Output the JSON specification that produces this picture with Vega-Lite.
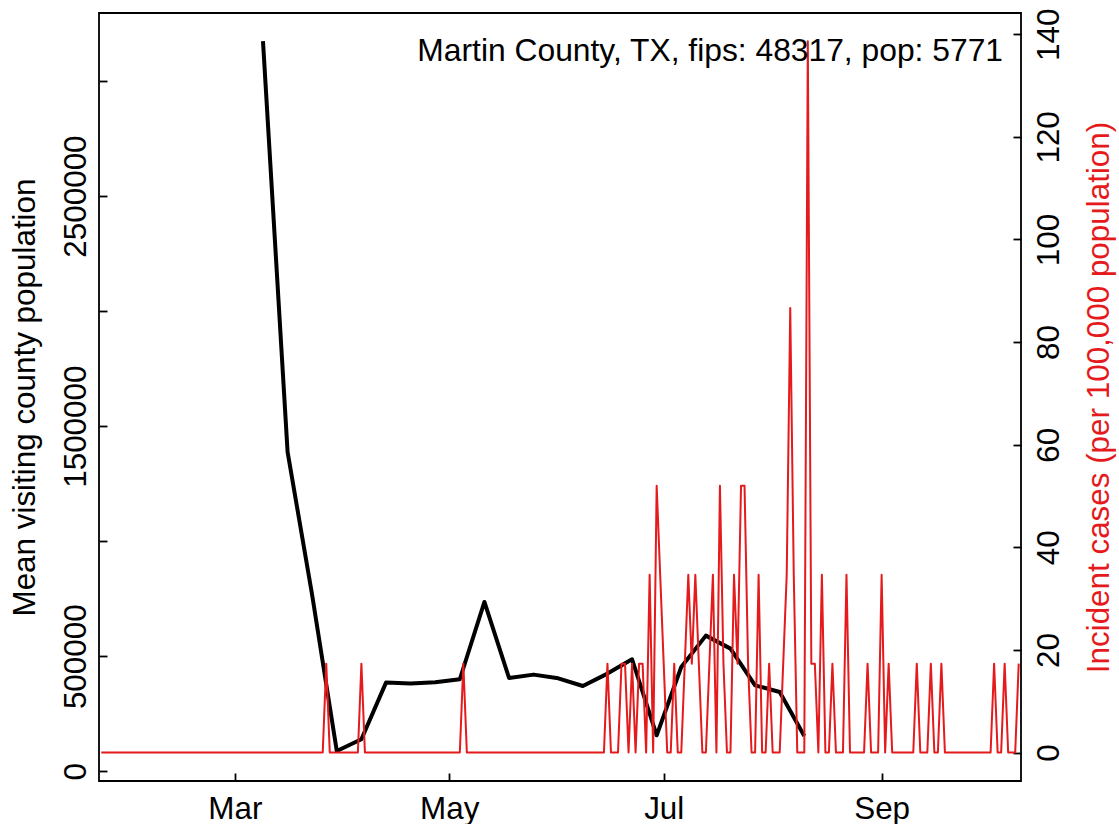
{
  "$schema": "https://vega.github.io/schema/vega-lite/v6.json",
  "width": 922,
  "height": 768,
  "autosize": {"type": "none"},
  "padding": {"left": 99, "top": 13, "right": 98, "bottom": 43},
  "background": "white",
  "title": {
    "text": "Martin County, TX, fips: 48317, pop: 5771",
    "anchor": "end",
    "orient": "top",
    "frame": "group",
    "offset": 0,
    "baseline": "alphabetic",
    "dy": 85,
    "dx": -18,
    "font": "Liberation Sans",
    "fontSize": 31.8,
    "fontWeight": "normal",
    "color": "black"
  },
  "config": {
    "view": {"stroke": "black", "strokeWidth": 1.8},
    "axis": {
      "domain": false,
      "grid": false,
      "ticks": true,
      "tickColor": "black",
      "tickWidth": 1.8,
      "tickSize": -8,
      "labelFont": "Liberation Sans",
      "labelFontSize": 31.4,
      "labelColor": "black",
      "titleFont": "Liberation Sans",
      "titleFontSize": 31.4,
      "titleFontWeight": "normal",
      "titleColor": "black"
    }
  },
  "datasets": {
    "mobility": [
      {"date": "2020-03-09", "pop": 3173000},
      {"date": "2020-03-16", "pop": 1388000},
      {"date": "2020-03-23", "pop": 765000},
      {"date": "2020-03-30", "pop": 88000},
      {"date": "2020-04-06", "pop": 139000},
      {"date": "2020-04-13", "pop": 385500},
      {"date": "2020-04-20", "pop": 382000},
      {"date": "2020-04-27", "pop": 386800},
      {"date": "2020-05-04", "pop": 400000},
      {"date": "2020-05-11", "pop": 736000},
      {"date": "2020-05-18", "pop": 405500},
      {"date": "2020-05-25", "pop": 420200},
      {"date": "2020-06-01", "pop": 404200},
      {"date": "2020-06-08", "pop": 370700},
      {"date": "2020-06-15", "pop": 424600},
      {"date": "2020-06-22", "pop": 487000},
      {"date": "2020-06-29", "pop": 156400},
      {"date": "2020-07-06", "pop": 453300},
      {"date": "2020-07-13", "pop": 589700},
      {"date": "2020-07-20", "pop": 533200},
      {"date": "2020-07-27", "pop": 373700},
      {"date": "2020-08-03", "pop": 344700},
      {"date": "2020-08-10", "pop": 153400}
    ],
    "cases": [
      {"date": "2020-01-23", "rate": 0}, {"date": "2020-01-24", "rate": 0}, {"date": "2020-01-25", "rate": 0},
      {"date": "2020-01-26", "rate": 0}, {"date": "2020-01-27", "rate": 0}, {"date": "2020-01-28", "rate": 0},
      {"date": "2020-01-29", "rate": 0}, {"date": "2020-01-30", "rate": 0}, {"date": "2020-01-31", "rate": 0},
      {"date": "2020-02-01", "rate": 0}, {"date": "2020-02-02", "rate": 0}, {"date": "2020-02-03", "rate": 0},
      {"date": "2020-02-04", "rate": 0}, {"date": "2020-02-05", "rate": 0}, {"date": "2020-02-06", "rate": 0},
      {"date": "2020-02-07", "rate": 0}, {"date": "2020-02-08", "rate": 0}, {"date": "2020-02-09", "rate": 0},
      {"date": "2020-02-10", "rate": 0}, {"date": "2020-02-11", "rate": 0}, {"date": "2020-02-12", "rate": 0},
      {"date": "2020-02-13", "rate": 0}, {"date": "2020-02-14", "rate": 0}, {"date": "2020-02-15", "rate": 0},
      {"date": "2020-02-16", "rate": 0}, {"date": "2020-02-17", "rate": 0}, {"date": "2020-02-18", "rate": 0},
      {"date": "2020-02-19", "rate": 0}, {"date": "2020-02-20", "rate": 0}, {"date": "2020-02-21", "rate": 0},
      {"date": "2020-02-22", "rate": 0}, {"date": "2020-02-23", "rate": 0}, {"date": "2020-02-24", "rate": 0},
      {"date": "2020-02-25", "rate": 0}, {"date": "2020-02-26", "rate": 0}, {"date": "2020-02-27", "rate": 0},
      {"date": "2020-02-28", "rate": 0}, {"date": "2020-02-29", "rate": 0},
      {"date": "2020-03-01", "rate": 0}, {"date": "2020-03-02", "rate": 0}, {"date": "2020-03-03", "rate": 0},
      {"date": "2020-03-04", "rate": 0}, {"date": "2020-03-05", "rate": 0}, {"date": "2020-03-06", "rate": 0},
      {"date": "2020-03-07", "rate": 0}, {"date": "2020-03-08", "rate": 0}, {"date": "2020-03-09", "rate": 0},
      {"date": "2020-03-10", "rate": 0}, {"date": "2020-03-11", "rate": 0}, {"date": "2020-03-12", "rate": 0},
      {"date": "2020-03-13", "rate": 0}, {"date": "2020-03-14", "rate": 0}, {"date": "2020-03-15", "rate": 0},
      {"date": "2020-03-16", "rate": 0}, {"date": "2020-03-17", "rate": 0}, {"date": "2020-03-18", "rate": 0},
      {"date": "2020-03-19", "rate": 0}, {"date": "2020-03-20", "rate": 0}, {"date": "2020-03-21", "rate": 0},
      {"date": "2020-03-22", "rate": 0}, {"date": "2020-03-23", "rate": 0}, {"date": "2020-03-24", "rate": 0},
      {"date": "2020-03-25", "rate": 0}, {"date": "2020-03-26", "rate": 0}, {"date": "2020-03-27", "rate": 17.33},
      {"date": "2020-03-28", "rate": 0}, {"date": "2020-03-29", "rate": 0}, {"date": "2020-03-30", "rate": 0},
      {"date": "2020-03-31", "rate": 0},
      {"date": "2020-04-01", "rate": 0}, {"date": "2020-04-02", "rate": 0}, {"date": "2020-04-03", "rate": 0},
      {"date": "2020-04-04", "rate": 0}, {"date": "2020-04-05", "rate": 0}, {"date": "2020-04-06", "rate": 17.33},
      {"date": "2020-04-07", "rate": 0}, {"date": "2020-04-08", "rate": 0}, {"date": "2020-04-09", "rate": 0},
      {"date": "2020-04-10", "rate": 0}, {"date": "2020-04-11", "rate": 0}, {"date": "2020-04-12", "rate": 0},
      {"date": "2020-04-13", "rate": 0}, {"date": "2020-04-14", "rate": 0}, {"date": "2020-04-15", "rate": 0},
      {"date": "2020-04-16", "rate": 0}, {"date": "2020-04-17", "rate": 0}, {"date": "2020-04-18", "rate": 0},
      {"date": "2020-04-19", "rate": 0}, {"date": "2020-04-20", "rate": 0}, {"date": "2020-04-21", "rate": 0},
      {"date": "2020-04-22", "rate": 0}, {"date": "2020-04-23", "rate": 0}, {"date": "2020-04-24", "rate": 0},
      {"date": "2020-04-25", "rate": 0}, {"date": "2020-04-26", "rate": 0}, {"date": "2020-04-27", "rate": 0},
      {"date": "2020-04-28", "rate": 0}, {"date": "2020-04-29", "rate": 0}, {"date": "2020-04-30", "rate": 0},
      {"date": "2020-05-01", "rate": 0}, {"date": "2020-05-02", "rate": 0}, {"date": "2020-05-03", "rate": 0},
      {"date": "2020-05-04", "rate": 0}, {"date": "2020-05-05", "rate": 17.33}, {"date": "2020-05-06", "rate": 0},
      {"date": "2020-05-07", "rate": 0}, {"date": "2020-05-08", "rate": 0}, {"date": "2020-05-09", "rate": 0},
      {"date": "2020-05-10", "rate": 0}, {"date": "2020-05-11", "rate": 0}, {"date": "2020-05-12", "rate": 0},
      {"date": "2020-05-13", "rate": 0}, {"date": "2020-05-14", "rate": 0}, {"date": "2020-05-15", "rate": 0},
      {"date": "2020-05-16", "rate": 0}, {"date": "2020-05-17", "rate": 0}, {"date": "2020-05-18", "rate": 0},
      {"date": "2020-05-19", "rate": 0}, {"date": "2020-05-20", "rate": 0}, {"date": "2020-05-21", "rate": 0},
      {"date": "2020-05-22", "rate": 0}, {"date": "2020-05-23", "rate": 0}, {"date": "2020-05-24", "rate": 0},
      {"date": "2020-05-25", "rate": 0}, {"date": "2020-05-26", "rate": 0}, {"date": "2020-05-27", "rate": 0},
      {"date": "2020-05-28", "rate": 0}, {"date": "2020-05-29", "rate": 0}, {"date": "2020-05-30", "rate": 0},
      {"date": "2020-05-31", "rate": 0},
      {"date": "2020-06-01", "rate": 0}, {"date": "2020-06-02", "rate": 0}, {"date": "2020-06-03", "rate": 0},
      {"date": "2020-06-04", "rate": 0}, {"date": "2020-06-05", "rate": 0}, {"date": "2020-06-06", "rate": 0},
      {"date": "2020-06-07", "rate": 0}, {"date": "2020-06-08", "rate": 0}, {"date": "2020-06-09", "rate": 0},
      {"date": "2020-06-10", "rate": 0}, {"date": "2020-06-11", "rate": 0}, {"date": "2020-06-12", "rate": 0},
      {"date": "2020-06-13", "rate": 0}, {"date": "2020-06-14", "rate": 0}, {"date": "2020-06-15", "rate": 17.33},
      {"date": "2020-06-16", "rate": 0}, {"date": "2020-06-17", "rate": 0}, {"date": "2020-06-18", "rate": 0},
      {"date": "2020-06-19", "rate": 17.33}, {"date": "2020-06-20", "rate": 17.33}, {"date": "2020-06-21", "rate": 0},
      {"date": "2020-06-22", "rate": 17.33}, {"date": "2020-06-23", "rate": 0}, {"date": "2020-06-24", "rate": 17.33},
      {"date": "2020-06-25", "rate": 17.33}, {"date": "2020-06-26", "rate": 0}, {"date": "2020-06-27", "rate": 34.66},
      {"date": "2020-06-28", "rate": 0}, {"date": "2020-06-29", "rate": 51.98}, {"date": "2020-06-30", "rate": 34.66},
      {"date": "2020-07-01", "rate": 17.33}, {"date": "2020-07-02", "rate": 0}, {"date": "2020-07-03", "rate": 0},
      {"date": "2020-07-04", "rate": 17.33}, {"date": "2020-07-05", "rate": 0}, {"date": "2020-07-06", "rate": 0},
      {"date": "2020-07-07", "rate": 17.33}, {"date": "2020-07-08", "rate": 34.66}, {"date": "2020-07-09", "rate": 17.33},
      {"date": "2020-07-10", "rate": 34.66}, {"date": "2020-07-11", "rate": 17.33}, {"date": "2020-07-12", "rate": 0},
      {"date": "2020-07-13", "rate": 0}, {"date": "2020-07-14", "rate": 17.33}, {"date": "2020-07-15", "rate": 34.66},
      {"date": "2020-07-16", "rate": 0}, {"date": "2020-07-17", "rate": 51.98}, {"date": "2020-07-18", "rate": 17.33},
      {"date": "2020-07-19", "rate": 0}, {"date": "2020-07-20", "rate": 0}, {"date": "2020-07-21", "rate": 34.66},
      {"date": "2020-07-22", "rate": 17.33}, {"date": "2020-07-23", "rate": 51.98}, {"date": "2020-07-24", "rate": 51.98},
      {"date": "2020-07-25", "rate": 17.33}, {"date": "2020-07-26", "rate": 0}, {"date": "2020-07-27", "rate": 0},
      {"date": "2020-07-28", "rate": 34.66}, {"date": "2020-07-29", "rate": 0}, {"date": "2020-07-30", "rate": 0},
      {"date": "2020-07-31", "rate": 17.33},
      {"date": "2020-08-01", "rate": 0}, {"date": "2020-08-02", "rate": 0}, {"date": "2020-08-03", "rate": 0},
      {"date": "2020-08-04", "rate": 17.33}, {"date": "2020-08-05", "rate": 34.66}, {"date": "2020-08-06", "rate": 86.64},
      {"date": "2020-08-07", "rate": 34.66}, {"date": "2020-08-08", "rate": 0}, {"date": "2020-08-09", "rate": 0},
      {"date": "2020-08-10", "rate": 0}, {"date": "2020-08-11", "rate": 138.62}, {"date": "2020-08-12", "rate": 17.33},
      {"date": "2020-08-13", "rate": 17.33}, {"date": "2020-08-14", "rate": 0}, {"date": "2020-08-15", "rate": 34.66},
      {"date": "2020-08-16", "rate": 0}, {"date": "2020-08-17", "rate": 0}, {"date": "2020-08-18", "rate": 17.33},
      {"date": "2020-08-19", "rate": 0}, {"date": "2020-08-20", "rate": 0}, {"date": "2020-08-21", "rate": 0},
      {"date": "2020-08-22", "rate": 34.66}, {"date": "2020-08-23", "rate": 0}, {"date": "2020-08-24", "rate": 0},
      {"date": "2020-08-25", "rate": 0}, {"date": "2020-08-26", "rate": 0}, {"date": "2020-08-27", "rate": 0},
      {"date": "2020-08-28", "rate": 17.33}, {"date": "2020-08-29", "rate": 0}, {"date": "2020-08-30", "rate": 0},
      {"date": "2020-08-31", "rate": 0},
      {"date": "2020-09-01", "rate": 34.66}, {"date": "2020-09-02", "rate": 0}, {"date": "2020-09-03", "rate": 17.33},
      {"date": "2020-09-04", "rate": 0}, {"date": "2020-09-05", "rate": 0}, {"date": "2020-09-06", "rate": 0},
      {"date": "2020-09-07", "rate": 0}, {"date": "2020-09-08", "rate": 0}, {"date": "2020-09-09", "rate": 0},
      {"date": "2020-09-10", "rate": 0}, {"date": "2020-09-11", "rate": 17.33}, {"date": "2020-09-12", "rate": 0},
      {"date": "2020-09-13", "rate": 0}, {"date": "2020-09-14", "rate": 0}, {"date": "2020-09-15", "rate": 17.33},
      {"date": "2020-09-16", "rate": 0}, {"date": "2020-09-17", "rate": 0}, {"date": "2020-09-18", "rate": 17.33},
      {"date": "2020-09-19", "rate": 0}, {"date": "2020-09-20", "rate": 0}, {"date": "2020-09-21", "rate": 0},
      {"date": "2020-09-22", "rate": 0}, {"date": "2020-09-23", "rate": 0}, {"date": "2020-09-24", "rate": 0},
      {"date": "2020-09-25", "rate": 0}, {"date": "2020-09-26", "rate": 0}, {"date": "2020-09-27", "rate": 0},
      {"date": "2020-09-28", "rate": 0}, {"date": "2020-09-29", "rate": 0}, {"date": "2020-09-30", "rate": 0},
      {"date": "2020-10-01", "rate": 0}, {"date": "2020-10-02", "rate": 0}, {"date": "2020-10-03", "rate": 17.33},
      {"date": "2020-10-04", "rate": 0}, {"date": "2020-10-05", "rate": 0}, {"date": "2020-10-06", "rate": 17.33},
      {"date": "2020-10-07", "rate": 0}, {"date": "2020-10-08", "rate": 0}, {"date": "2020-10-09", "rate": 0},
      {"date": "2020-10-10", "rate": 17.33}
    ]
  },
  "layer": [
    {
      "data": {"name": "mobility"},
      "mark": {"type": "line", "color": "black", "strokeWidth": 4, "strokeJoin": "round", "clip": true},
      "encoding": {
        "x": {
          "field": "date",
          "type": "temporal",
          "scale": {
            "type": "utc",
            "domain": [
              {"year": 2020, "month": 1, "date": 22, "hours": 8, "minutes": 24, "utc": true},
              {"year": 2020, "month": 10, "date": 10, "hours": 15, "minutes": 36, "utc": true}
            ]
          },
          "axis": {
            "title": null,
            "values": [
              {"year": 2020, "month": 3, "date": 1, "utc": true},
              {"year": 2020, "month": 5, "date": 1, "utc": true},
              {"year": 2020, "month": 7, "date": 1, "utc": true},
              {"year": 2020, "month": 9, "date": 1, "utc": true}
            ],
            "labelExpr": "utcFormat(datum.value, '%b')",
            "labelBaseline": "top",
            "labelPadding": 20,
            "labelFlush": false,
            "labelOverlap": false
          }
        },
        "y": {
          "field": "pop",
          "type": "quantitative",
          "scale": {"domain": [-42156, 3295524], "nice": false, "zero": false},
          "axis": {
            "orient": "left",
            "title": "Mean visiting county population",
            "values": [0, 500000, 1000000, 1500000, 2000000, 2500000, 3000000],
            "format": "d",
            "labelExpr": "(datum.value == 0 || datum.value % 1000000 == 500000) ? datum.label : ''",
            "labelAngle": 270,
            "labelAlign": "center",
            "labelBaseline": "alphabetic",
            "labelPadding": 22,
            "labelOverlap": false,
            "labelFlush": false,
            "titleAngle": 270,
            "titleBaseline": "alphabetic",
            "titleAlign": "center",
            "titleX": -65,
            "titleY": 384
          }
        }
      }
    },
    {
      "data": {"name": "cases"},
      "mark": {"type": "line", "color": "#E41A1C", "strokeWidth": 2, "strokeJoin": "round", "clip": true},
      "encoding": {
        "x": {"field": "date", "type": "temporal"},
        "y": {
          "field": "rate",
          "type": "quantitative",
          "scale": {"domain": [-5.545, 144.145], "nice": false, "zero": false},
          "axis": {
            "orient": "right",
            "title": "Incident cases (per 100,000 population)",
            "titleColor": "#E41A1C",
            "values": [0, 20, 40, 60, 80, 100, 120, 140],
            "labelAngle": 270,
            "labelAlign": "center",
            "labelBaseline": "top",
            "labelPadding": 20,
            "labelOverlap": false,
            "labelFlush": false,
            "titleAngle": 270,
            "titleBaseline": "alphabetic",
            "titleAlign": "center",
            "titleX": 87,
            "titleY": 384
          }
        }
      }
    }
  ],
  "resolve": {"scale": {"y": "independent"}}
}
